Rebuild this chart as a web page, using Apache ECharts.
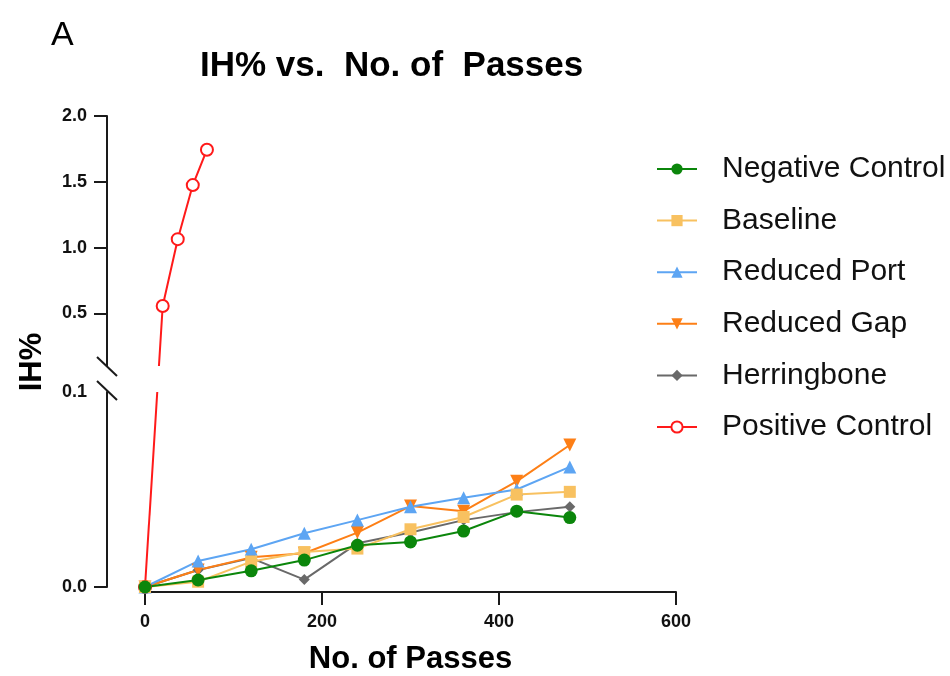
<!DOCTYPE html>
<html>
<head>
<meta charset="utf-8">
<script src="https://cdn.jsdelivr.net/npm/echarts@6/dist/echarts.min.js"></script>
<style>
html,body{margin:0;padding:0;background:#fff;}
#chart{width:950px;height:676px;}
</style>
</head>
<body>
<div id="chart"></div>
<script>
const passes = [0, 60, 120, 180, 240, 300, 360, 420, 480];
const negativeControl = [0, 0.0036, 0.0083, 0.0138, 0.0214, 0.0231, 0.0287, 0.0389, 0.0356];
const baseline        = [0, 0.0027, 0.0130, 0.0179, 0.0197, 0.0296, 0.0359, 0.0474, 0.0488];
const reducedPort     = [0, 0.0133, 0.0194, 0.0276, 0.0343, 0.0412, 0.0458, 0.0500, 0.0616];
const reducedGap      = [0, 0.0087, 0.0152, 0.0173, 0.0279, 0.0415, 0.0389, 0.0542, 0.0728];
const herringbone     = [0, 0.0087, 0.0148, 0.0038, 0.0224, 0.0279, 0.0343, 0.0384, 0.0412];
const positivePasses  = [0, 20, 37, 54, 70];
const positiveControl = [0, 0.556, 1.064, 1.475, 1.744];
const xTicks = [0, 200, 400, 600];
const yTopTicks = [0.5, 1.0, 1.5, 2.0];
const yBottomTicks = [0.0, 0.1];
const breakAt = 0.1;

const FONT = "'Liberation Sans', Arial, sans-serif";
const AX = '#1a1a1a';

function pairs(xs, ys){ return xs.map((x,i)=>[x, ys[i]]); }

const chart = echarts.init(document.getElementById('chart'));

function mk(name, color, symbol, size, ys, extra){
  return Object.assign({
    name, type:'line', xAxisIndex:1, yAxisIndex:1,
    data: pairs(passes, ys),
    symbol, symbolSize:size,
    lineStyle:{color, width:2},
    itemStyle:{color, borderWidth:0},
    clip:true, animation:false
  }, extra||{});
}
const red = '#ff1a1a';
const redStyle = {
  type:'line', name:'Positive Control',
  symbol:'emptyCircle', symbolSize:12,
  lineStyle:{color:red, width:2},
  itemStyle:{color:red, borderColor:red, borderWidth:3},
  clip:true, animation:false
};
// points above the break live in the top grid, those below in the bottom grid
const posAll = pairs(positivePasses, positiveControl);
const posLow = posAll.filter(p => p[1] <= breakAt);
const posHigh = posAll.filter(p => p[1] > breakAt);

const yAxisCommon = {
  type:'value', offset:38,
  axisLine:{show:true, onZero:false, lineStyle:{color:AX, width:2}},
  splitLine:{show:false}
};

const option = {
  backgroundColor:'#fff',
  animation:false,
  title:[
    {text:'A', left:46, top:14, textStyle:{fontFamily:FONT, fontSize:34, fontWeight:'normal', color:'#000'}},
    {text:'IH% vs.  No. of  Passes', left:195, top:44, textStyle:{fontFamily:FONT, fontSize:35, fontWeight:'bold', color:'#000'}}
  ],
  legend:{
    orient:'vertical', left:651, top:149,
    itemWidth:40, itemHeight:14, itemGap:21.6,
    data:['Negative Control','Baseline','Reduced Port','Reduced Gap','Herringbone','Positive Control'],
    textStyle:{fontFamily:FONT, fontSize:30, color:'#111', lineHeight:30, padding:[0,0,0,20]}
  },
  grid:[
    {left:145, width:531, top:116, height:250},
    {left:145, width:531, top:392, height:196}
  ],
  xAxis:[
    {gridIndex:0, type:'value', min:0, max:600, show:false},
    {gridIndex:1, type:'value', min:0, max:600, interval:200, offset:5,
     axisLine:{show:true, onZero:false, lineStyle:{color:AX, width:2}},
     axisTick:{show:true, length:13, lineStyle:{color:AX, width:2}},
     axisLabel:{margin:21, fontFamily:FONT, fontSize:18, fontWeight:'bold', color:'#111', customValues:xTicks},
     splitLine:{show:false},
     name:'No. of Passes', nameLocation:'middle', nameGap:52,
     nameTextStyle:{fontFamily:FONT, fontSize:31, fontWeight:'bold', color:'#000'}}
  ],
  yAxis:[
    Object.assign({}, yAxisCommon, {gridIndex:0, min:breakAt, max:2.0,
     axisTick:{show:true, length:13, lineStyle:{color:AX, width:2}, customValues:yTopTicks},
     axisLabel:{margin:20, fontFamily:FONT, fontSize:18, fontWeight:'bold', color:'#111', customValues:yTopTicks,
       formatter:v=>v.toFixed(1)}}),
    Object.assign({}, yAxisCommon, {gridIndex:1, min:0, max:breakAt,
     axisTick:{show:true, length:13, lineStyle:{color:AX, width:2}, customValues:[0]},
     axisLabel:{margin:20, fontFamily:FONT, fontSize:18, fontWeight:'bold', color:'#111', customValues:yBottomTicks,
       formatter:v=>v.toFixed(1)}})
  ],
  graphic:[
    {id:'yname', type:'text', x:32, y:362, rotation:Math.PI/2,
     style:{text:'IH%', font:"bold 31px "+FONT, fill:'#000', align:'center', verticalAlign:'middle'}},
    {id:'brk1', type:'line', shape:{x1:97, y1:357, x2:117, y2:376}, style:{stroke:AX, lineWidth:2}},
    {id:'brk2', type:'line', shape:{x1:97, y1:381, x2:117, y2:400}, style:{stroke:AX, lineWidth:2}}
  ],
  series:[
    Object.assign({}, redStyle, {xAxisIndex:0, yAxisIndex:0, data:posHigh}),
    Object.assign({}, redStyle, {xAxisIndex:1, yAxisIndex:1, data:posLow}),
    mk('Herringbone', '#696969', 'diamond', 11, herringbone),
    mk('Reduced Gap', '#fd7f16', 'triangle', 13, reducedGap, {symbolRotate:180}),
    mk('Reduced Port', '#5da5f3', 'triangle', 13, reducedPort),
    mk('Baseline', '#f8c160', 'rect', 12, baseline),
    mk('Negative Control', '#0b860b', 'circle', 13, negativeControl)
  ]
};
chart.setOption(option);

// connector of the positive control across the axis break, drawn in screen space
const a = chart.convertToPixel({xAxisIndex:1, yAxisIndex:1}, posLow[posLow.length-1]);
const b = chart.convertToPixel({xAxisIndex:0, yAxisIndex:0}, posHigh[0]);
const yLowTop = chart.convertToPixel({yAxisIndex:1}, breakAt);
const yHighBottom = chart.convertToPixel({yAxisIndex:0}, breakAt);
function xAtY(y){ return a[0] + (b[0]-a[0]) * (y - a[1]) / (b[1]-a[1]); }
chart.setOption({graphic:[
  {id:'pc1', type:'line', z:1, shape:{x1:a[0], y1:a[1], x2:xAtY(yLowTop), y2:yLowTop},
   style:{stroke:red, lineWidth:2}},
  {id:'pc2', type:'line', z:1, shape:{x1:xAtY(yHighBottom), y1:yHighBottom, x2:b[0], y2:b[1]},
   style:{stroke:red, lineWidth:2}}
]});
</script>
</body>
</html>
